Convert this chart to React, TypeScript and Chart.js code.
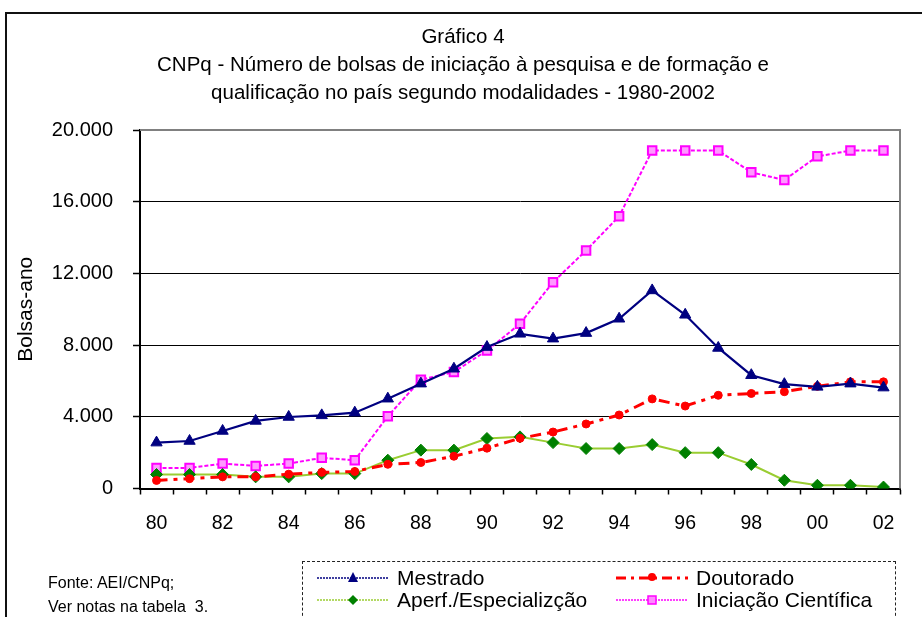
import React, { useEffect, useRef } from "react";
import { Chart, registerables } from "chart.js";

Chart.register(...registerables);

const years = ["80","81","82","83","84","85","86","87","88","89","90","91","92","93","94","95","96","97","98","99","00","01","02"];
const xTickLabels = ["80","","82","","84","","86","","88","","90","","92","","94","","96","","98","","00","","02"];

const mestrado = [2560, 2650, 3210, 3770, 3990, 4080, 4230, 5010, 5850, 6680, 7890, 8630, 8360, 8670, 9470, 11050, 9690, 7840, 6320, 5820, 5670, 5850, 5630];
const doutorado = [450, 550, 650, 650, 800, 900, 950, 1350, 1450, 1800, 2250, 2800, 3150, 3600, 4100, 5000, 4600, 5200, 5300, 5400, 5700, 5950, 5950];
const aperfeicoamento = [780, 780, 780, 650, 650, 830, 830, 1580, 2140, 2140, 2790, 2880, 2560, 2230, 2230, 2450, 2000, 2000, 1340, 460, 180, 180, 80];
const iniciacao = [1150, 1150, 1390, 1260, 1390, 1710, 1580, 4030, 6070, 6500, 7700, 9190, 11510, 13280, 15190, 18850, 18850, 18850, 17640, 17210, 18530, 18850, 18850];

const yTickValues = [0, 4000, 8000, 12000, 16000, 20000];
const yTickLabels = ["0", "4.000", "8.000", "12.000", "16.000", "20.000"];

const titleLines = [
  "Gráfico 4",
  "CNPq - Número de bolsas de iniciação à pesquisa e de formação e",
  "qualificação no país segundo modalidades - 1980-2002",
];

const FONT = "'Liberation Sans', Arial, Helvetica, sans-serif";

const framePlugin = {
  id: "plotFrame",
  beforeDatasetsDraw(chart: any) {
    const { ctx, chartArea } = chart;
    const { left, top, right, bottom } = chartArea;
    ctx.save();
    ctx.strokeStyle = "#808080";
    ctx.lineWidth = 2;
    ctx.beginPath();
    ctx.moveTo(left, top);
    ctx.lineTo(right, top);
    ctx.lineTo(right, bottom);
    ctx.stroke();
    ctx.restore();
  },
};

function LegendSample({ kind }: { kind: string }) {
  const w = 72, h = 14, cy = 7, cx = 36;
  let line: any = null;
  let marker: any = null;
  if (kind === "mestrado") {
    line = <line x1={0} y1={cy} x2={w} y2={cy} stroke="#000080" strokeWidth={1.5} strokeDasharray="2,1" />;
    marker = <polygon points={`${cx},${cy - 6} ${cx + 5},${cy + 4} ${cx - 5},${cy + 4}`} fill="#000080" />;
  } else if (kind === "aperf") {
    line = <line x1={0} y1={cy} x2={w} y2={cy} stroke="#9ACD32" strokeWidth={1.5} strokeDasharray="2,1" />;
    marker = <polygon points={`${cx},${cy - 5} ${cx + 5},${cy} ${cx},${cy + 5} ${cx - 5},${cy}`} fill="#008000" />;
  } else if (kind === "doutorado") {
    line = <line x1={0} y1={cy} x2={w} y2={cy} stroke="#FF0000" strokeWidth={3} strokeDasharray="10,5,3,5" />;
    marker = <circle cx={cx} cy={cy - 1} r={4} fill="#FF0000" />;
  } else {
    line = <line x1={0} y1={cy} x2={w} y2={cy} stroke="#FF00FF" strokeWidth={1.5} strokeDasharray="2,1" />;
    marker = <rect x={cx - 4} y={cy - 4} width={8} height={8} fill="#FF88FF" stroke="#FF00FF" strokeWidth={1.5} />;
  }
  return (
    <svg width={w} height={h} style={{ display: "block" }}>
      {line}
      {marker}
    </svg>
  );
}

function LegendItem({ kind, label, x, y }: { kind: string; label: string; x: number; y: number }) {
  return (
    <div style={{ position: "absolute", left: x, top: y - 11, height: 22, display: "flex", alignItems: "center" }}>
      <LegendSample kind={kind} />
      <span style={{ marginLeft: 8, fontFamily: FONT, fontSize: 21, color: "#000", whiteSpace: "nowrap", lineHeight: "22px" }}>{label}</span>
    </div>
  );
}

export default function App() {
  const canvasRef = useRef<HTMLCanvasElement | null>(null);

  useEffect(() => {
    if (!canvasRef.current) return;
    const chart = new Chart(canvasRef.current, {
      type: "line",
      data: {
        labels: years,
        datasets: [
          {
            label: "Mestrado",
            data: mestrado,
            borderColor: "#000080",
            backgroundColor: "#000080",
            borderWidth: 2.2,
            pointStyle: "triangle",
            pointRadius: 6.5,
            pointBorderWidth: 1,
            pointBorderColor: "#000080",
            pointBackgroundColor: "#000080",
            tension: 0,
          },
          {
            label: "Doutorado",
            data: doutorado,
            borderColor: "#FF0000",
            backgroundColor: "#FF0000",
            borderWidth: 3,
            borderDash: [11, 6, 4, 6],
            pointStyle: "circle",
            pointRadius: 4,
            pointBorderWidth: 1,
            pointBorderColor: "#FF0000",
            pointBackgroundColor: "#FF0000",
            tension: 0,
          },
          {
            label: "Aperf./Especializção",
            data: aperfeicoamento,
            borderColor: "#9ACD32",
            backgroundColor: "#008000",
            borderWidth: 2,
            pointStyle: "rectRot",
            pointRadius: 6,
            pointBorderWidth: 1,
            pointBorderColor: "#008000",
            pointBackgroundColor: "#008000",
            tension: 0,
          },
          {
            label: "Iniciação Científica",
            data: iniciacao,
            borderColor: "#FF00FF",
            backgroundColor: "#FF88FF",
            borderWidth: 2,
            borderDash: [4, 2],
            pointStyle: "rect",
            pointRadius: 6,
            pointBorderWidth: 2,
            pointBorderColor: "#FF00FF",
            pointBackgroundColor: "#FF99FF",
            tension: 0,
          },
        ],
      },
      options: {
        responsive: false,
        animation: false,
        layout: { padding: { left: 4, right: 0, top: 0, bottom: 0 } },
        plugins: {
          legend: { display: false },
          tooltip: { enabled: false },
          title: {
            display: true,
            text: titleLines,
            color: "#000",
            font: { family: FONT, size: 20.5, weight: "normal", lineHeight: 28 / 20.5 },
            padding: { top: 23, bottom: 23 },
          },
        },
        scales: {
          x: {
            type: "category",
            offset: true,
            grid: {
              display: true,
              drawOnChartArea: false,
              offset: true,
              drawTicks: true,
              tickLength: 6,
              tickColor: "#000",
              tickWidth: 1.5,
              tickBorderDash: [],
              color: "#000",
            },
            border: { display: true, color: "#000", width: 2 },
            ticks: {
              autoSkip: false,
              maxRotation: 0,
              minRotation: 0,
              padding: 17,
              color: "#000",
              font: { family: FONT, size: 19.5 },
              callback: (_v: any, i: number) => xTickLabels[i],
            },
            afterFit: (scale: any) => {
              scale.height = 617 - 488.5;
            },
          },
          y: {
            type: "linear",
            min: 0,
            max: 20000,
            afterBuildTicks: (scale: any) => {
              scale.ticks = yTickValues.map((v) => ({ value: v }));
            },
            ticks: {
              padding: 20,
              color: "#000",
              font: { family: FONT, size: 20 },
              callback: (v: any) => {
                const i = yTickValues.indexOf(Number(v));
                return i >= 0 ? yTickLabels[i] : "";
              },
            },
            grid: {
              display: true,
              drawOnChartArea: true,
              drawTicks: true,
              tickLength: 7,
              tickColor: "#000",
              tickWidth: 1.5,
              tickBorderDash: [],
              color: (ctx: any) => (ctx.tick && ctx.tick.value === 20000 ? "rgba(0,0,0,0)" : "#000"),
              lineWidth: 1,
              borderDash: [3, 1],
            },
            border: { display: true, color: "#000", width: 2 },
            title: {
              display: true,
              text: "Bolsas-ano",
              color: "#000",
              font: { family: FONT, size: 21, weight: "normal" },
              padding: { top: 10, bottom: 0 },
            },
            afterFit: (scale: any) => {
              scale.width = 136;
            },
          },
          ySpacer: {
            type: "linear",
            position: "right",
            display: true,
            grid: { display: false, drawTicks: false },
            border: { display: false },
            ticks: { display: false },
            afterFit: (scale: any) => {
              scale.width = 22;
            },
          },
        },
      },
      plugins: [framePlugin],
    });
    return () => chart.destroy();
  }, []);

  return (
    <div style={{ position: "absolute", left: 0, top: 0, width: 922, height: 617, background: "#fff", overflow: "hidden" }}>
      <div style={{ position: "absolute", left: 5, top: 12, width: 917, height: 605, borderTop: "2.5px solid #111", borderLeft: "2px solid #111", boxSizing: "border-box" }} />
      <canvas ref={canvasRef} width={922} height={617} style={{ position: "absolute", left: 0, top: 0, width: 922, height: 617 }} />
      <div style={{ position: "absolute", left: 48, top: 573, fontFamily: FONT, fontSize: 16, color: "#000", lineHeight: "20px", whiteSpace: "nowrap" }}>Fonte: AEI/CNPq;</div>
      <div style={{ position: "absolute", left: 48, top: 597, fontFamily: FONT, fontSize: 16, color: "#000", lineHeight: "20px", whiteSpace: "nowrap" }}>Ver notas na tabela&nbsp; 3.</div>
      <div style={{ position: "absolute", left: 302, top: 561, width: 594, height: 60, border: "1.5px dashed #222", boxSizing: "border-box" }} />
      <LegendItem kind="mestrado" label="Mestrado" x={317} y={578} />
      <LegendItem kind="aperf" label="Aperf./Especializção" x={317} y={600} />
      <LegendItem kind="doutorado" label="Doutorado" x={616} y={578} />
      <LegendItem kind="iniciacao" label="Iniciação Científica" x={616} y={600} />
    </div>
  );
}
